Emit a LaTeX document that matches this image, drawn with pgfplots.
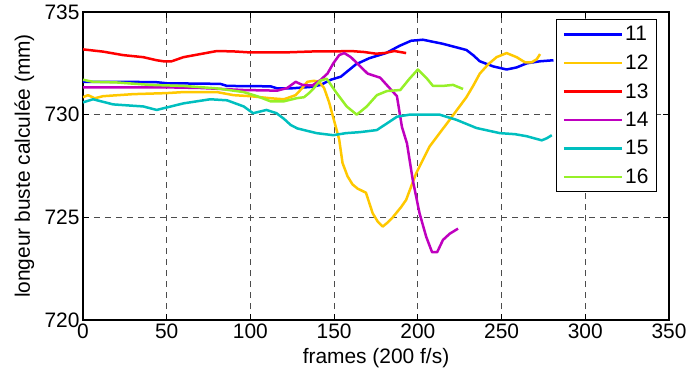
\documentclass[border=0pt]{standalone}
\usepackage{fontspec}
\setmainfont{Liberation Sans}
\usepackage{pgfplots}
\pgfplotsset{compat=1.18}
\definecolor{c11}{RGB}{0,0,255}
\definecolor{c12}{RGB}{255,200,0}
\definecolor{c13}{RGB}{255,0,0}
\definecolor{c14}{RGB}{191,0,191}
\definecolor{c15}{RGB}{0,191,191}
\definecolor{c16}{RGB}{150,240,40}
\newcommand{\bigf}{\fontsize{21}{25}\selectfont}
\begin{document}
\begin{tikzpicture}
\useasboundingbox (-83bp,-56bp) rectangle (606bp,320bp);
\begin{axis}[
 scale only axis, width=586bp, height=308bp,
 xmin=0, xmax=350, ymin=720, ymax=735,
 xtick={0,50,...,350}, ytick={720,725,730,735},
 tick align=inside, major tick length=6bp,
 grid=major,
 major grid style={dash pattern=on 6bp off 5bp, black!70, line width=0.8bp},
 axis line style={line width=1.1bp},
 every tick/.style={black, line width=1bp},
 /pgf/number format/assume math mode=true,
 /pgf/number format/set thousands separator={},
 ticklabel style={font=\bigf},
 label style={font=\bigf},
 xlabel={frames (200 f/s)},
 ylabel={longeur buste calculée (mm)},
 xlabel style={at={(axis description cs:0.5,-0.123)}, anchor=center},
 ylabel style={at={(axis description cs:-0.100,0.5)}, anchor=center},
 legend style={at={(1,1)}, anchor=north east, xshift=-12bp, yshift=-7bp,
   draw=black, line width=1bp, font=\bigf, row sep=8.5bp, inner xsep=6bp, inner ysep=5bp, cells={anchor=west}},
 legend image code/.code={\draw[#1, line width=2.5bp] (0bp,0bp) -- (58bp,0bp);},
 every axis plot/.append style={line width=2.5bp, line join=round},
]
\addplot[c11] coordinates {(0,731.6) (25,731.6) (44,731.58) (50,731.53) (82,731.5) (86,731.4) (112,731.38) (116,731.28) (124,731.28) (136,731.35) (142,731.45) (148,731.7) (154,731.85) (163,732.45) (171,732.75) (181,733.0) (189,733.35) (196,733.6) (203,733.65) (209,733.55) (215,733.45) (222,733.3) (229,733.15) (233,732.9) (237,732.6) (245,732.35) (253,732.2) (259,732.3) (265,732.5) (273,732.6) (281,732.65)};
\addlegendentry{11}
\addplot[c12] coordinates {(0,730.85) (3,730.95) (7,730.8) (12,730.9) (30,731.0) (50,731.05) (60,731.1) (80,731.1) (90,730.95) (100,730.9) (112,730.8) (120,730.75) (127,730.95) (131,731.3) (134,731.6) (138,731.65) (141,731.6) (144,731.3) (147,730.6) (150,729.7) (153,728.8) (155,727.65) (158,727.0) (161,726.6) (164,726.4) (169,726.2) (173,725.2) (176,724.8) (179,724.55) (182,724.75) (185,725.0) (190,725.5) (193,725.85) (196,726.5) (199,727.15) (203,727.8) (207,728.45) (213,729.1) (219,729.75) (224,730.3) (229,730.85) (233,731.4) (237,732.0) (242,732.45) (247,732.8) (253,733.0) (259,732.8) (264,732.55) (268,732.55) (271,732.7) (273,732.95)};
\addlegendentry{12}
\addplot[c13] coordinates {(0,733.18) (12,733.07) (24,732.9) (36,732.8) (44,732.65) (48,732.6) (53,732.6) (60,732.8) (70,732.95) (80,733.1) (90,733.08) (100,733.03) (120,733.03) (138,733.08) (150,733.08) (160,733.1) (168,733.05) (175,732.97) (180,733.0) (186,733.1) (193,733.0)};
\addlegendentry{13}
\addplot[c14] coordinates {(0,731.33) (50,731.33) (70,731.3) (96,731.2) (116,731.17) (122,731.3) (127,731.6) (131,731.45) (137,731.42) (142,731.7) (146,732.0) (149.5,732.5) (153,732.9) (156,733.0) (160,732.8) (165,732.4) (170,732.0) (177.5,731.8) (182.5,731.35) (187.5,730.9) (190.5,729.4) (193.5,728.6) (197,726.8) (201,725.2) (205,724.05) (208.5,723.3) (211.5,723.3) (215,723.9) (219,724.2) (224,724.45)};
\addlegendentry{14}
\addplot[c15] coordinates {(0,730.6) (6,730.75) (18,730.5) (36,730.4) (44,730.23) (50,730.35) (60,730.55) (76,730.75) (86,730.7) (96,730.4) (101.6,730.07) (109.6,730.23) (115.6,730.07) (120,729.8) (124,729.5) (128,729.33) (139.5,729.1) (149.5,729.0) (157,729.1) (165.5,729.15) (175.5,729.25) (182,729.6) (187.5,729.9) (195,730.0) (205,730.0) (213,730.0) (223,729.75) (235,729.35) (249,729.1) (258,729.05) (265,728.95) (274,728.75) (277,728.85) (280,729.0)};
\addlegendentry{15}
\addplot[c16] coordinates {(0,731.7) (6,731.6) (20,731.57) (40,731.45) (60,731.4) (80,731.28) (96,731.1) (104,730.9) (112,730.65) (120,730.65) (127.5,730.8) (132,730.85) (135,731.05) (138,731.3) (141.5,731.65) (145.6,731.75) (148.5,731.4) (151.5,731.05) (157.5,730.4) (163.5,730.0) (169.5,730.4) (175.5,730.95) (181.5,731.15) (189.5,731.2) (195,731.75) (200,732.2) (205.5,731.75) (209,731.4) (215,731.4) (221,731.45) (227,731.25)};
\addlegendentry{16}
\end{axis}
\end{tikzpicture}
\end{document}
